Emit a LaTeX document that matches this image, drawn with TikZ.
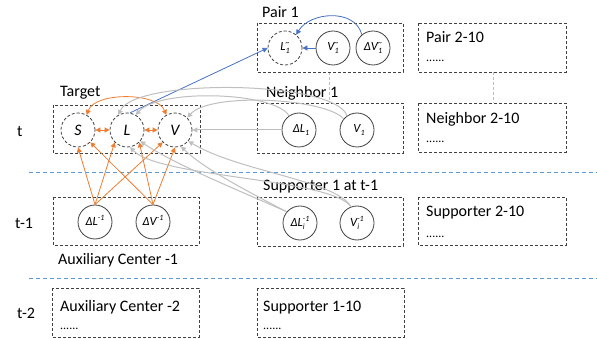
\documentclass[tikz,border=0pt]{standalone}
\usepackage{fontspec}
\setmainfont{Carlito}
\usetikzlibrary{arrows.meta}
\definecolor{myorange}{RGB}{237,125,49}
\definecolor{myblue}{RGB}{68,114,196}
\definecolor{mylightblue}{RGB}{91,155,213}
\definecolor{mypaleblue}{RGB}{160,195,230}
\definecolor{mygray}{RGB}{191,191,191}
\definecolor{mydark}{RGB}{64,64,64}
\newcommand{\sbsp}[3]{#1\makebox[0pt][l]{\raisebox{-0.45ex}{\fontsize{8}{8}\selectfont #2}}\raisebox{0.8ex}{\fontsize{8}{8}\selectfont #3}}
\begin{document}
\begin{tikzpicture}[x=1pt,y=-1pt,
  box/.style={draw=mydark, dash pattern=on 3pt off 2pt, line width=0.8pt},
  cir/.style={circle, draw=mydark, line width=0.8pt, minimum size=34pt, inner sep=0pt, font=\itshape\fontsize{12.5}{13}\selectfont},
  dcir/.style={cir, dash pattern=on 3pt off 2pt},
  bigtxt/.style={font=\itshape\fontsize{16}{17}\selectfont},
  lbl/.style={anchor=base west, inner sep=0pt, font=\fontsize{16}{18}\selectfont},
  dots/.style={anchor=base west, inner sep=0pt, font=\fontsize{12}{14}\selectfont},
  tip/.style={-{Triangle[length=5pt,width=5pt]}},
  oarr/.style={draw=myorange, line width=0.8pt, tip},
  oboth/.style={draw=myorange, line width=0.8pt, {Triangle[length=5pt,width=5pt]}-{Triangle[length=5pt,width=5pt]}},
  barr/.style={draw=myblue, line width=0.8pt, tip},
  garr/.style={draw=mygray, line width=1pt, tip},
  sep/.style={draw=mylightblue, line width=0.8pt, dash pattern=on 4pt off 3pt},
  vsep/.style={draw=mypaleblue, line width=1pt, dash pattern=on 3pt off 2pt}
]
\useasboundingbox (0,0) rectangle (597,339);

% separators
\draw[sep] (29,172) -- (597,172);
\draw[sep] (29,278) -- (597,278);
\draw[vsep] (329,72) -- (329,103);
\draw[vsep] (493,72) -- (493,103);

% boxes
\draw[box] (257,23) rectangle (403,72);
\draw[box] (418,23) rectangle (566,72);
\draw[box] (53,105) rectangle (200,153);
\draw[box] (257,103) rectangle (403,153);
\draw[box] (418,103) rectangle (566,152);
\draw[box] (53,197) rectangle (199,245);
\draw[box] (257,197) rectangle (403,246);
\draw[box] (418,197) rectangle (566,245);
\draw[box] (52,288) rectangle (199,337);
\draw[box] (257,288) rectangle (404,337);

% row labels
\node[lbl] (tt) at (17,137) {t};
\node[lbl] (tt1) at (15,229) {t-1};
\node[lbl] (tt2) at (17,318) {t-2};

% box labels
\node[lbl] (lpair) at (262,18) {Pair 1};
\node[lbl] (lpair2) at (426,43) {Pair 2-10};
\node[dots] (dpair2) at (426,62) {......};
\node[lbl] (ltarget) at (60,97) {Target};
\node[lbl] (lneigh) at (266,98) {Neighbor 1};
\node[lbl] (lneigh2) at (426,124) {Neighbor 2-10};
\node[dots] (dneigh2) at (426,143) {......};
\node[lbl] (lsup) at (263,191) {Supporter 1 at t-1};
\node[lbl] (lsup2) at (426,217) {Supporter 2-10};
\node[dots] (dsup2) at (426,237) {......};
\node[lbl] (laux1) at (58,264) {Auxiliary Center -1};
\node[lbl] (laux2) at (60,311) {Auxiliary Center -2};
\node[dots] (daux2) at (60,329) {......};
\node[lbl] (lsup10) at (263,311) {Supporter 1-10};
\node[dots] (dsup10) at (263,329) {......};

% circles
\node[dcir] (l1) at (285,48) {\sbsp{L}{1}{\textasciitilde}};
\node[cir] (v1) at (333,48) {\sbsp{V}{1}{\textasciitilde}};
\node[cir] (dv1) at (373,48) {\sbsp{ΔV}{1}{\textasciitilde}};

\node[dcir, bigtxt] (S) at (78,130) {S};
\node[dcir, bigtxt] (L) at (127,130) {L};
\node[dcir, bigtxt] (V) at (175,130) {V};

\node[cir] (dL1) at (299,130) {\sbsp{ΔL}{1}{}};
\node[cir] (V1) at (357,130) {\sbsp{V}{1}{}};

\node[cir] (dLa) at (95,222) {\sbsp{ΔL}{}{-1}};
\node[cir] (dVa) at (153,222) {\sbsp{ΔV}{}{-1}};

\node[cir] (dLi) at (300,223) {\sbsp{ΔL}{i}{-1}};
\node[cir] (Vi) at (357,223) {\sbsp{V}{i}{-1}};

% blue
\draw[barr] (L.80) -- (l1.west);
\draw[barr] (v1.west) -- (l1.east);
\draw[barr] (dv1.130) .. controls (355,8) and (310,12) .. (l1.50);

% orange within target
\draw[oboth] (S.east) -- (L.west);
\draw[oboth] (L.east) -- (V.west);
\draw[oboth] (S.60) .. controls (95,92) and (157,92) .. (V.120);

% orange from auxiliary
\draw[oarr] (dLa.north) -- (S.south);
\draw[oarr] (dLa.north) -- (L.-135);
\draw[oarr] (dLa.north) -- (V.-135);
\draw[oarr] (dVa.north) -- (S.-45);
\draw[oarr] (dVa.north) -- (L.-45);
\draw[oarr] (dVa.north) -- (V.south);

% gray from neighbor
\draw[garr] (dL1.west) -- (V.east);
\draw[garr] (dL1.125) .. controls (275,92) and (160,88) .. (L.60);
\draw[garr] (V1.125) .. controls (335,80) and (135,78) .. (L.120);
\draw[garr] (V1.140) .. controls (325,98) and (210,92) .. (V.45);

% gray from supporter
\draw[garr] (dLi.140) .. controls (250,195) and (175,165) .. (L.-40);
\draw[garr] (dLi.140) .. controls (255,195) and (205,170) .. (V.-70);
\draw[garr] (Vi.110) .. controls (335,180) and (240,172) .. (V.-40);
\draw[garr] (Vi.110) .. controls (330,178) and (160,178) .. (L.-80);
\end{tikzpicture}
\end{document}
